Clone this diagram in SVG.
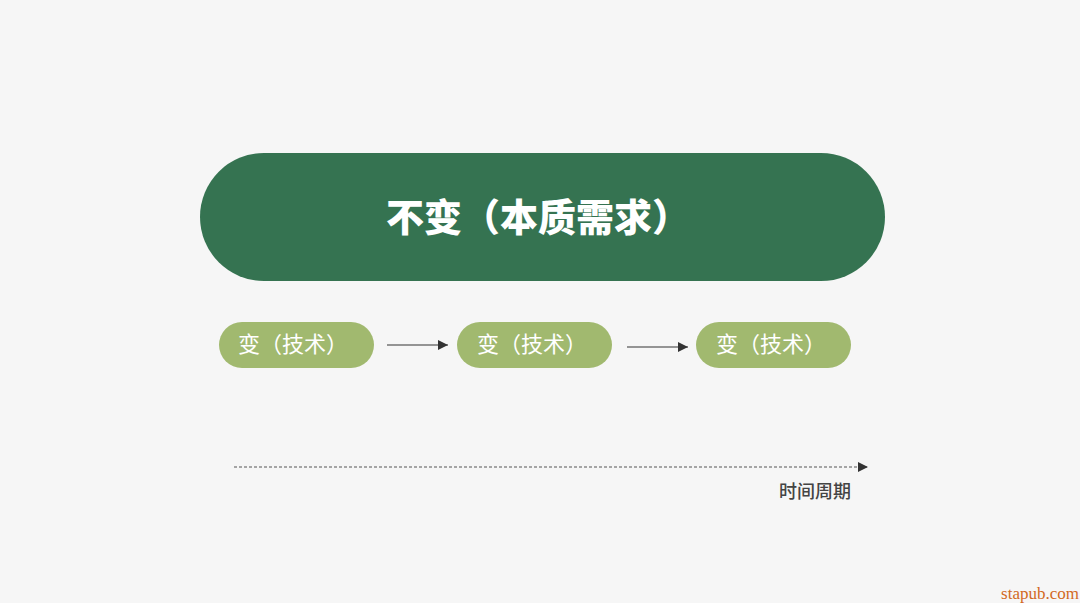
<svg xmlns="http://www.w3.org/2000/svg" width="1080" height="603" viewBox="0 0 1080 603">
<defs>
<style>
.cjk{font-family:"Noto Sans CJK SC","Noto Sans",sans-serif}
.small{fill:#a1b96f}
.lbl{fill:#ffffff;font-size:22px}
</style>
<marker id="ah" viewBox="0 0 10 10" refX="10" refY="5" markerWidth="10" markerHeight="10" markerUnits="userSpaceOnUse" orient="auto"><path d="M0,0 L10,5 L0,10 z" fill="#333"/></marker>
</defs>
<rect width="1080" height="603" fill="#f6f6f6"/>
<g id="main">
<rect x="200" y="153" width="685" height="128" rx="64" fill="#357351"/>
<text x="538" y="231" text-anchor="middle" class="cjk" font-size="38" font-weight="900" fill="#ffffff">不变（本质需求）</text>
</g>
<g id="n1">
<rect class="small" x="219" y="322" width="155" height="46" rx="23"/>
<text class="cjk lbl" x="238" y="352">变（技术）</text>
</g>
<g id="n2">
<rect class="small" x="457" y="322" width="155" height="46" rx="23"/>
<text class="cjk lbl" x="477" y="352">变（技术）</text>
</g>
<g id="n3">
<rect class="small" x="696" y="322" width="155" height="46" rx="23"/>
<text class="cjk lbl" x="716" y="352">变（技术）</text>
</g>
<g id="connectors" stroke="#333" stroke-width="1" fill="none">
<line x1="387" y1="345" x2="448" y2="345" marker-end="url(#ah)"/>
<line x1="627" y1="347" x2="688" y2="347" marker-end="url(#ah)"/>
<line x1="234" y1="467" x2="868" y2="467" stroke="#555" stroke-dasharray="3,2" marker-end="url(#ah)"/>
</g>
<g id="axis-label">
<text class="cjk" x="779" y="498" font-size="18" font-weight="500" fill="#444">时间周期</text>
</g>
<text x="1079" y="599" text-anchor="end" font-family="Liberation Serif,serif" font-size="17" fill="#d2691e">stapub.com</text>
</svg>
